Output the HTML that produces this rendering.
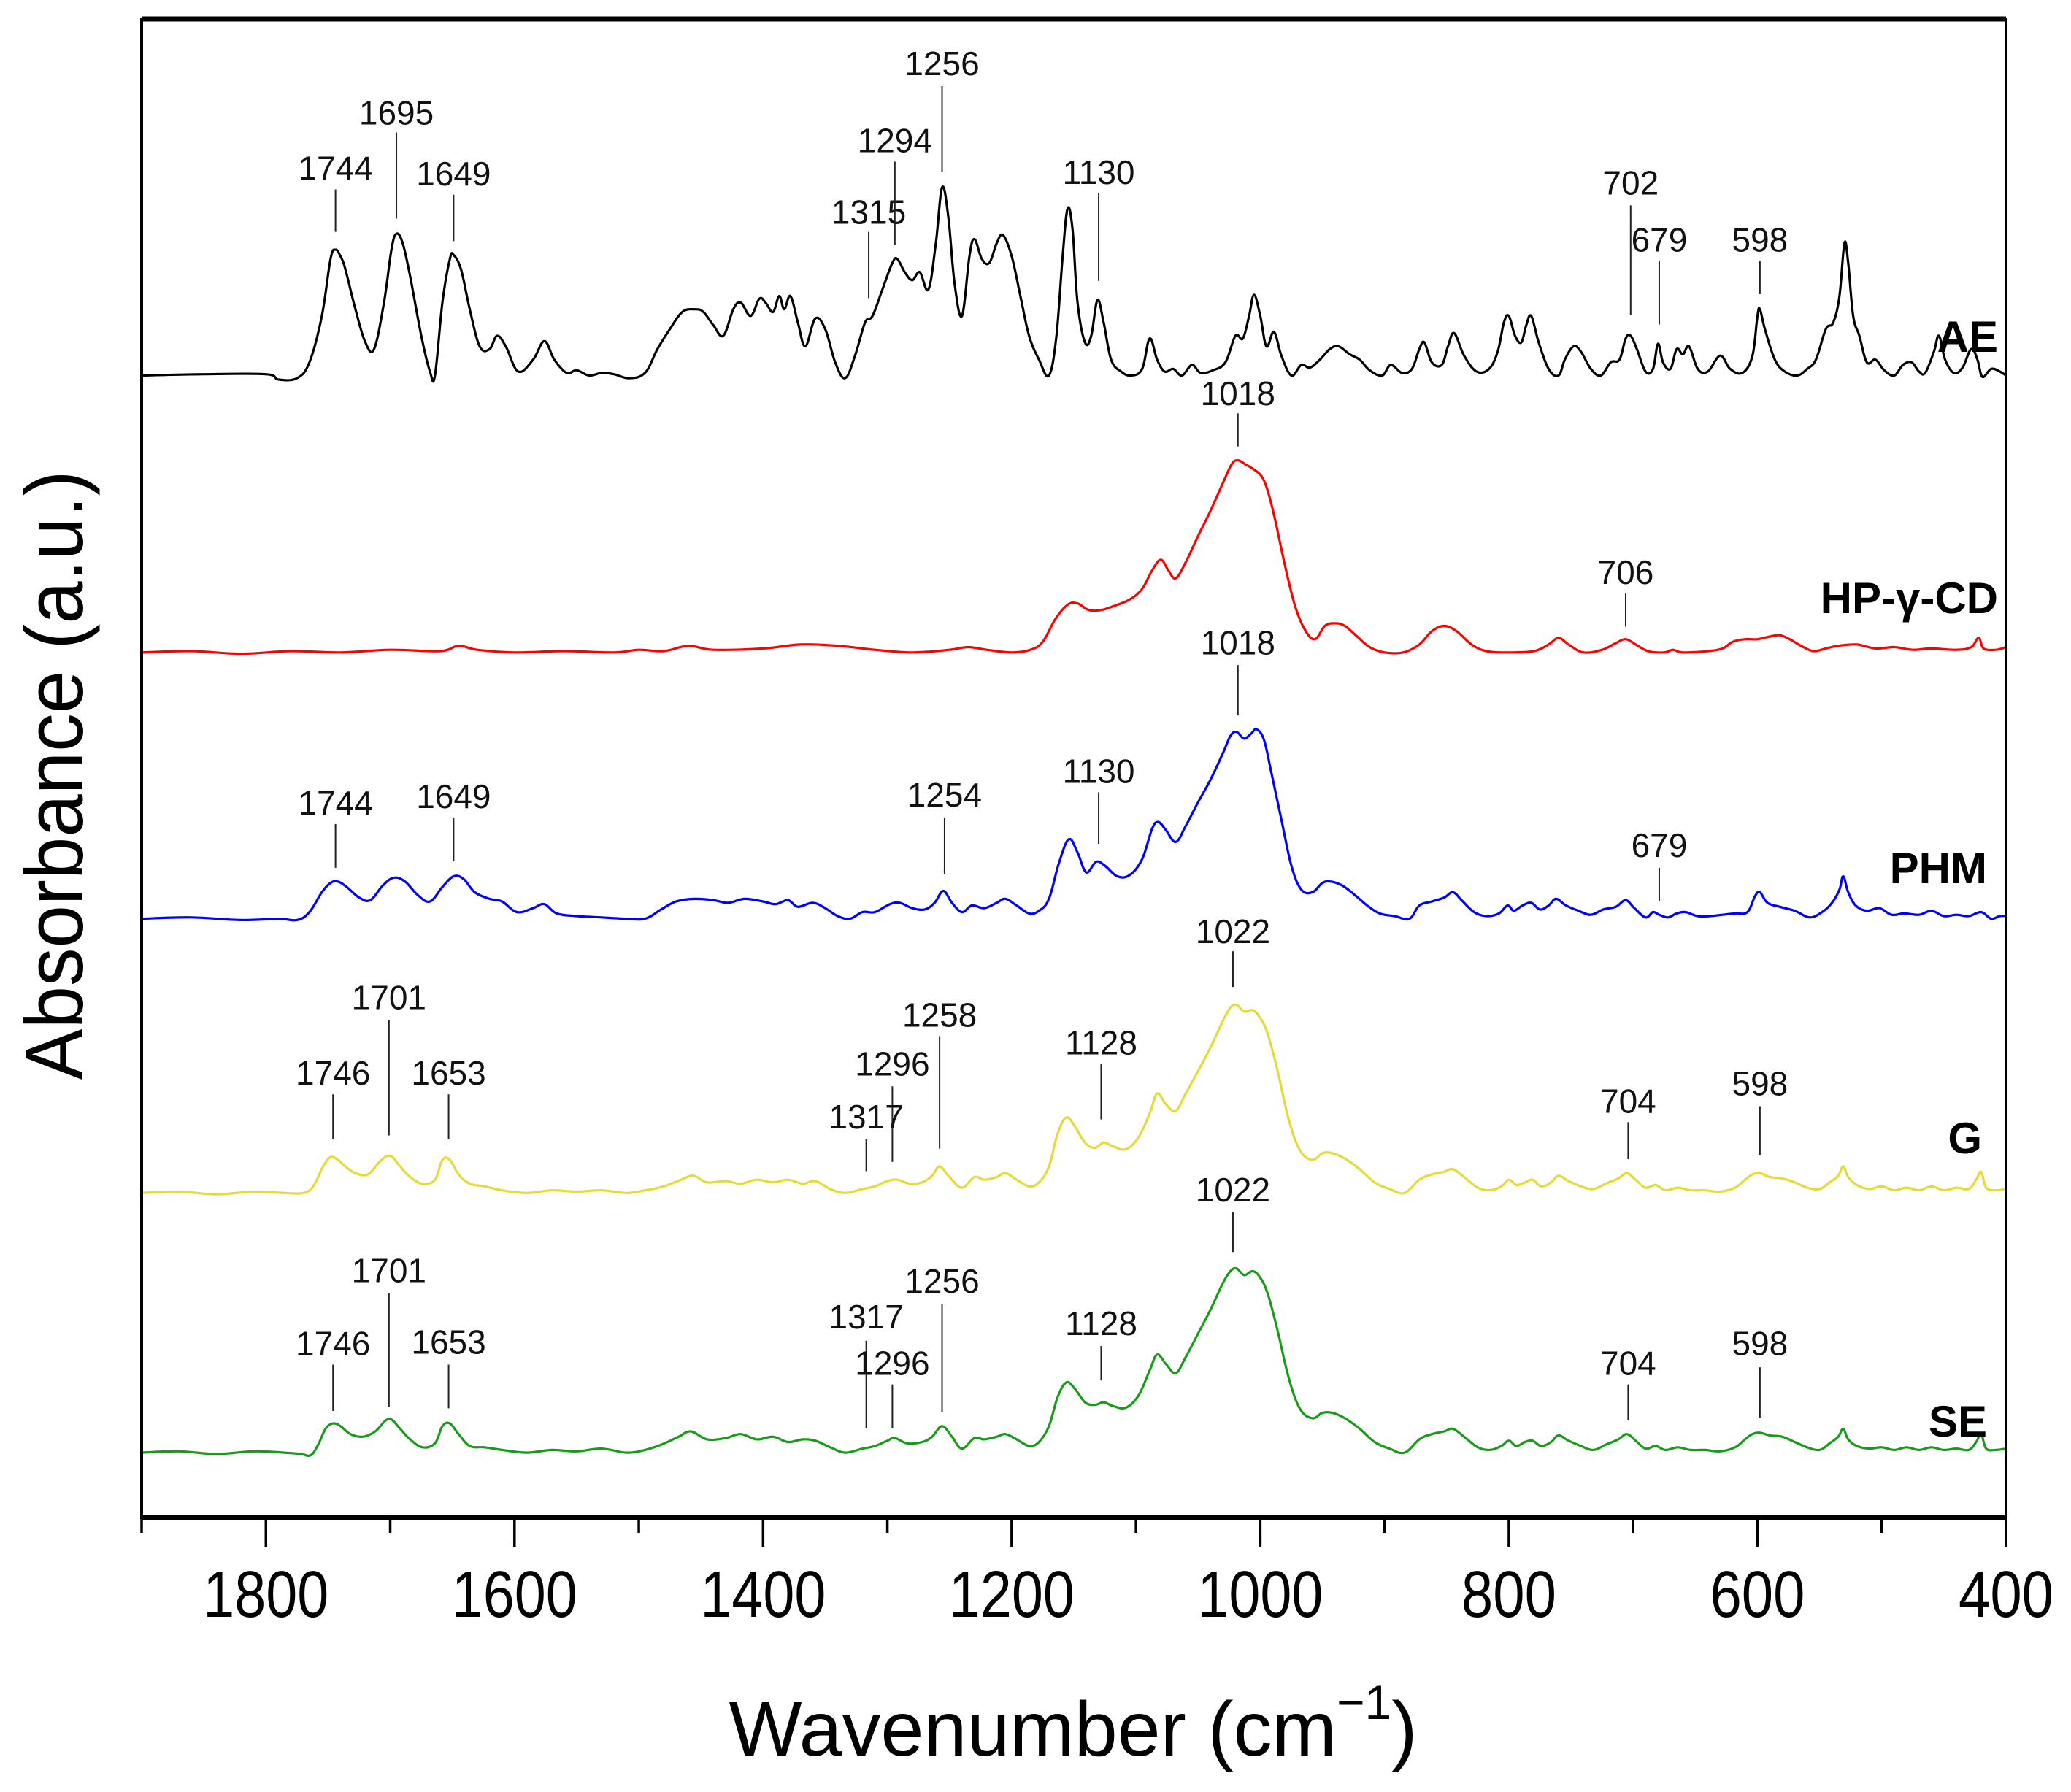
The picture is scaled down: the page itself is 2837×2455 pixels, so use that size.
<!DOCTYPE html>
<html><head><meta charset="utf-8"><title>FTIR spectra</title>
<style>html,body{margin:0;padding:0;background:#fff}svg{display:block}</style></head>
<body>
<svg id="chart" width="2837" height="2455" viewBox="0 0 2837 2455" xmlns="http://www.w3.org/2000/svg" font-family="Liberation Sans, sans-serif">
<rect x="0" y="0" width="2837" height="2455" fill="#fff"/>
<g id="plot"></g>
</svg>
<script>
// ---- data (wavenumber cm-1, absorbance a.u. relative to each trace baseline) ----
const xTicks = [1800, 1600, 1400, 1200, 1000, 800, 600, 400];
const seriesNames = ["AE", "HP-γ-CD", "PHM", "G", "SE"];
const seriesOffsets = [8.62, 6.53, 4.52, 2.45, 0.49];
const aeData = [[1900,0],[1850,0.01],[1800,0.01],[1790,-0.03],[1775,-0.02],[1765,0.1],[1755,0.45],[1748,0.88],[1744,0.95],[1740,0.9],[1736,0.8],[1728,0.5],[1720,0.25],[1713,0.2],[1705,0.55],[1699,0.95],[1695,1.07],[1690,1.0],[1684,0.75],[1675,0.3],[1668,0.03],[1664,0.0],[1658,0.55],[1652,0.88],[1649,0.91],[1643,0.8],[1636,0.5],[1628,0.22],[1620,0.2],[1614,0.3],[1607,0.22],[1597,0.03],[1585,0.12],[1576,0.26],[1568,0.12],[1558,0.02],[1550,0.04],[1540,0.0],[1530,0.02],[1520,0.01],[1508,-0.02],[1495,0.02],[1485,0.2],[1475,0.35],[1465,0.48],[1455,0.5],[1448,0.48],[1440,0.38],[1432,0.3],[1424,0.5],[1418,0.55],[1410,0.45],[1403,0.58],[1398,0.55],[1392,0.48],[1387,0.6],[1383,0.5],[1378,0.6],[1372,0.4],[1366,0.22],[1358,0.43],[1350,0.35],[1342,0.1],[1334,-0.02],[1326,0.15],[1318,0.4],[1312,0.45],[1304,0.65],[1296,0.85],[1292,0.88],[1286,0.78],[1280,0.72],[1274,0.78],[1267,0.65],[1261,1.0],[1256,1.42],[1251,1.2],[1246,0.7],[1240,0.45],[1234,0.9],[1230,1.03],[1224,0.88],[1218,0.85],[1212,1.0],[1207,1.06],[1200,0.9],[1193,0.6],[1186,0.3],[1178,0.12],[1170,0.0],[1164,0.3],[1159,0.9],[1155,1.26],[1151,1.1],[1147,0.55],[1141,0.25],[1136,0.3],[1131,0.57],[1126,0.4],[1120,0.12],[1112,0.03],[1104,0.0],[1095,0.05],[1089,0.28],[1083,0.12],[1077,0.03],[1070,0.05],[1063,0.0],[1055,0.08],[1048,0.02],[1038,0.04],[1028,0.1],[1020,0.3],[1014,0.28],[1009,0.45],[1005,0.61],[1000,0.45],[995,0.22],[989,0.33],[983,0.15],[975,0.0],[967,0.08],[960,0.06],[952,0.12],[944,0.2],[937,0.22],[928,0.16],[920,0.12],[912,0.04],[902,0.0],[895,0.08],[886,0.02],[878,0.05],[872,0.2],[868,0.25],[862,0.1],[854,0.08],[849,0.22],[844,0.32],[836,0.15],[826,0.03],[816,0.05],[809,0.18],[804,0.4],[800,0.45],[795,0.3],[790,0.25],[786,0.38],[782,0.45],[776,0.25],[768,0.05],[760,0.0],[755,0.12],[748,0.22],[742,0.18],[734,0.05],[726,0.0],[718,0.1],[711,0.12],[706,0.28],[702,0.3],[697,0.2],[690,0.03],[684,0.05],[680,0.24],[676,0.1],[670,0.05],[665,0.2],[660,0.16],[655,0.22],[648,0.05],[640,0.03],[630,0.15],[622,0.05],[612,0.02],[604,0.15],[600,0.45],[598,0.5],[594,0.35],[586,0.12],[578,0.03],[568,0.0],[560,0.05],[553,0.12],[545,0.35],[539,0.4],[534,0.6],[530,1.0],[527,0.85],[523,0.45],[518,0.3],[512,0.1],[505,0.12],[498,0.04],[490,0.0],[483,0.08],[476,0.1],[470,0.03],[465,0.02],[458,0.18],[454,0.3],[449,0.12],[442,0.02],[435,0.06],[428,0.2],[423,0.12],[419,-0.01],[412,0.05],[405,0.03],[400,0.0]];
const hpData = [[1900,0],[1860,0.01],[1820,-0.01],[1780,0.01],[1740,0.0],[1700,0.02],[1660,0.01],[1645,0.05],[1630,0.02],[1600,0.0],[1560,0.01],[1520,0.0],[1500,0.02],[1480,0.01],[1460,0.05],[1440,0.02],[1400,0.03],[1370,0.06],[1340,0.05],[1310,0.02],[1280,0.0],[1250,0.02],[1235,0.04],[1220,0.02],[1200,0.0],[1185,0.02],[1175,0.08],[1165,0.25],[1155,0.36],[1147,0.37],[1138,0.32],[1128,0.32],[1118,0.35],[1105,0.4],[1095,0.48],[1087,0.62],[1080,0.7],[1074,0.62],[1068,0.56],[1060,0.68],[1050,0.88],[1040,1.07],[1030,1.28],[1023,1.42],[1018,1.45],[1012,1.42],[1005,1.38],[999,1.33],[994,1.22],[988,1.0],[980,0.65],[972,0.35],[964,0.17],[956,0.1],[948,0.2],[940,0.22],[932,0.2],[922,0.12],[912,0.04],[900,0.0],[885,0.0],[872,0.06],[862,0.16],[852,0.2],[842,0.16],[830,0.06],[818,0.01],[800,0.0],[780,0.01],[768,0.06],[760,0.11],[752,0.06],[740,0.0],[725,0.02],[714,0.07],[706,0.1],[698,0.06],[688,0.01],[675,0.0],[668,0.02],[660,0.0],[640,0.01],[628,0.03],[620,0.08],[610,0.1],[600,0.1],[590,0.12],[582,0.13],[574,0.1],[565,0.05],[555,0.01],[545,0.03],[535,0.05],[520,0.06],[505,0.03],[490,0.04],[475,0.02],[460,0.03],[440,0.02],[428,0.04],[422,0.11],[418,0.03],[408,0.02],[400,0.04]];
const phmData = [[1900,0],[1860,0.01],[1820,-0.01],[1790,0.0],[1775,-0.01],[1765,0.05],[1755,0.2],[1748,0.27],[1742,0.28],[1735,0.24],[1725,0.16],[1716,0.14],[1706,0.25],[1697,0.31],[1688,0.28],[1678,0.18],[1668,0.13],[1658,0.24],[1649,0.32],[1641,0.3],[1632,0.2],[1620,0.15],[1610,0.13],[1598,0.05],[1585,0.08],[1576,0.11],[1566,0.04],[1550,0.02],[1530,0.01],[1510,0.0],[1495,0.0],[1482,0.07],[1470,0.13],[1455,0.15],[1440,0.14],[1428,0.12],[1415,0.15],[1400,0.13],[1390,0.11],[1380,0.14],[1372,0.09],[1360,0.12],[1350,0.08],[1340,0.02],[1330,0.0],[1320,0.05],[1310,0.05],[1298,0.11],[1290,0.12],[1280,0.08],[1270,0.07],[1262,0.12],[1255,0.21],[1248,0.12],[1240,0.05],[1232,0.1],[1222,0.08],[1212,0.12],[1205,0.15],[1196,0.1],[1186,0.04],[1178,0.06],[1170,0.15],[1162,0.42],[1154,0.6],[1147,0.5],[1140,0.35],[1132,0.43],[1125,0.4],[1115,0.32],[1105,0.33],[1095,0.45],[1087,0.68],[1082,0.73],[1076,0.67],[1068,0.58],[1060,0.7],[1050,0.88],[1040,1.05],[1030,1.25],[1024,1.38],[1019,1.41],[1013,1.36],[1007,1.4],[1003,1.43],[997,1.35],[991,1.1],[983,0.75],[975,0.4],[967,0.22],[958,0.2],[950,0.27],[943,0.28],[934,0.25],[924,0.18],[914,0.1],[904,0.04],[892,0.02],[880,0.0],[872,0.1],[862,0.13],[852,0.16],[845,0.2],[838,0.14],[828,0.05],[818,0.02],[808,0.04],[801,0.1],[796,0.06],[789,0.1],[782,0.12],[775,0.07],[768,0.1],[762,0.15],[754,0.1],[744,0.06],[734,0.03],[724,0.07],[714,0.09],[706,0.14],[699,0.08],[690,0.01],[684,0.05],[679,0.03],[672,0.01],[665,0.04],[658,0.05],[648,0.02],[638,0.02],[628,0.03],[618,0.04],[608,0.05],[602,0.17],[598,0.2],[592,0.12],[582,0.09],[570,0.06],[558,0.01],[548,0.05],[540,0.12],[534,0.22],[531,0.32],[527,0.2],[521,0.1],[512,0.06],[502,0.08],[492,0.03],[482,0.04],[470,0.03],[460,0.06],[450,0.02],[440,0.03],[430,0.02],[420,0.05],[412,0.0],[405,0.02],[400,0.02]];
const gData = [[1900,0],[1870,0.01],[1840,-0.01],[1810,0.01],[1785,0.0],[1770,0.0],[1762,0.05],[1754,0.2],[1748,0.27],[1742,0.25],[1736,0.2],[1728,0.15],[1718,0.14],[1708,0.24],[1700,0.28],[1692,0.2],[1684,0.12],[1674,0.07],[1664,0.1],[1658,0.25],[1652,0.25],[1645,0.14],[1636,0.07],[1624,0.05],[1610,0.02],[1590,0.0],[1570,0.02],[1550,0.01],[1530,0.02],[1510,0.0],[1495,0.02],[1480,0.05],[1466,0.1],[1456,0.13],[1445,0.08],[1430,0.09],[1418,0.07],[1405,0.1],[1392,0.08],[1380,0.1],[1368,0.07],[1358,0.09],[1346,0.03],[1334,0.0],[1320,0.03],[1310,0.05],[1300,0.09],[1292,0.1],[1282,0.07],[1272,0.08],[1264,0.13],[1258,0.2],[1250,0.12],[1240,0.04],[1230,0.12],[1222,0.1],[1212,0.12],[1205,0.15],[1196,0.1],[1186,0.05],[1178,0.08],[1170,0.2],[1163,0.45],[1156,0.57],[1149,0.5],[1141,0.38],[1133,0.34],[1126,0.38],[1118,0.35],[1108,0.33],[1098,0.42],[1089,0.6],[1083,0.75],[1076,0.67],[1068,0.62],[1060,0.75],[1050,0.92],[1040,1.1],[1030,1.3],[1024,1.4],[1019,1.42],[1013,1.37],[1006,1.38],[1000,1.32],[994,1.2],[986,0.92],[977,0.55],[968,0.32],[958,0.25],[950,0.3],[942,0.3],[932,0.26],[920,0.18],[908,0.08],[896,0.03],[884,0.0],[872,0.1],[862,0.14],[852,0.16],[845,0.18],[836,0.12],[825,0.04],[815,0.02],[806,0.05],[800,0.1],[794,0.06],[787,0.08],[781,0.1],[774,0.05],[766,0.08],[760,0.13],[752,0.09],[742,0.05],[732,0.03],[722,0.07],[712,0.11],[705,0.15],[698,0.1],[690,0.04],[682,0.06],[674,0.02],[664,0.04],[654,0.02],[642,0.02],[630,0.01],[618,0.04],[610,0.1],[604,0.14],[598,0.15],[590,0.12],[580,0.11],[570,0.08],[560,0.04],[550,0.03],[542,0.08],[535,0.13],[531,0.2],[527,0.12],[520,0.06],[510,0.03],[500,0.05],[490,0.02],[480,0.04],[470,0.02],[460,0.05],[450,0.02],[440,0.04],[430,0.03],[424,0.1],[420,0.16],[416,0.04],[408,0.02],[400,0.03]];
const seData = [[1900,0],[1870,0.01],[1840,-0.01],[1810,0.01],[1785,0.0],[1772,-0.01],[1764,-0.02],[1758,0.06],[1752,0.18],[1746,0.22],[1740,0.2],[1732,0.14],[1722,0.12],[1712,0.16],[1704,0.24],[1699,0.25],[1692,0.18],[1684,0.1],[1674,0.04],[1664,0.07],[1658,0.2],[1652,0.22],[1645,0.14],[1636,0.05],[1624,0.04],[1610,0.02],[1590,0.0],[1570,0.02],[1550,0.01],[1530,0.03],[1510,0.0],[1495,0.02],[1482,0.06],[1468,0.12],[1458,0.16],[1445,0.1],[1430,0.11],[1418,0.14],[1405,0.1],[1392,0.12],[1380,0.08],[1368,0.1],[1358,0.09],[1346,0.04],[1334,0.0],[1320,0.03],[1310,0.05],[1300,0.09],[1294,0.11],[1284,0.07],[1272,0.08],[1264,0.12],[1256,0.2],[1248,0.12],[1240,0.03],[1230,0.11],[1222,0.1],[1212,0.12],[1205,0.14],[1196,0.1],[1186,0.05],[1178,0.08],[1170,0.2],[1163,0.42],[1156,0.53],[1149,0.48],[1141,0.38],[1133,0.36],[1126,0.38],[1118,0.35],[1108,0.34],[1098,0.43],[1089,0.62],[1083,0.74],[1076,0.67],[1068,0.6],[1060,0.72],[1050,0.9],[1040,1.08],[1030,1.28],[1024,1.37],[1019,1.39],[1013,1.34],[1006,1.37],[1000,1.32],[994,1.2],[986,0.92],[977,0.56],[968,0.33],[958,0.26],[950,0.3],[942,0.3],[932,0.26],[920,0.18],[908,0.08],[896,0.03],[884,0.0],[872,0.1],[862,0.14],[852,0.16],[845,0.18],[836,0.12],[825,0.04],[815,0.02],[806,0.05],[800,0.09],[794,0.05],[787,0.08],[781,0.09],[774,0.05],[766,0.08],[760,0.13],[752,0.09],[742,0.05],[732,0.02],[722,0.06],[712,0.1],[705,0.14],[698,0.09],[690,0.03],[682,0.05],[674,0.02],[664,0.04],[654,0.02],[642,0.02],[630,0.01],[618,0.04],[610,0.1],[604,0.14],[598,0.15],[590,0.13],[580,0.12],[570,0.08],[560,0.04],[550,0.02],[542,0.07],[535,0.12],[531,0.18],[527,0.1],[520,0.05],[510,0.03],[500,0.04],[490,0.02],[480,0.04],[470,0.02],[460,0.04],[450,0.02],[440,0.03],[430,0.02],[424,0.08],[420,0.14],[416,0.03],[408,0.02],[400,0.03]];
const seriesData = [aeData, hpData, phmData, gData, seData];
const seriesColors = ["#000000", "#ff0000", "#0000ff", "#e3dc38", "#1a9a1a"];
// peak annotations: wavenumbers and labels per series
const annoWn = [
  [1744,1695,1649,1315,1294,1256,1130,702,679,598],
  [1018,706],
  [1018,1744,1649,1254,1130,679],
  [1022,1701,1746,1653,1258,1296,1317,1128,704,598],
  [1022,1701,1746,1653,1317,1296,1256,1128,704,598]
];
const annoLabels = annoWn.map(a => a.map(String));

// ---- layout ----
const S = 1.815;
const L = 194, R = 2748, T = 26, B = 2079;
const X0 = 1900, X1 = 400;
const VPX = 181.5; // px per a.u.
function xScale(w){ return L + (X0 - w) / (X0 - X1) * (R - L); }
function yScale(v){ return B - v * VPX; }
// annotation layout in preview units: [textY, lineTop, lineBottom]
const annoPos = [
  [[127,143,175],[85,100,165],[131,147,182],[160,175,225],[106,122,185],[48,65,130],[130,146,212],[138,155,238],[181,197,245],[181,197,222]],
  [[297,312,337],[432,448,473]],
  [[485,502,540],[606,622,655],[601,617,650],[600,617,660],[582,598,637],[638,655,680]],
  [[703,718,745],[753,770,857],[810,826,860],[810,826,860],[766,782,867],[803,820,877],[843,860,884],[787,803,845],[831,847,875],[818,835,872]],
  [[898,915,945],[959,976,1062],[1014,1030,1065],[1013,1030,1063],[994,1012,1078],[1029,1045,1078],[967,984,1066],[999,1016,1042],[1029,1045,1072],[1014,1032,1070]]
];
const labelPos = [[2737,482],[2737,840],[2722,1210],[2715,1580],[2722,1968]];

const NS = "http://www.w3.org/2000/svg";
const g = document.getElementById("plot");
function mk(tag, attrs, parent){ const e = document.createElementNS(NS, tag); for (const k in attrs) e.setAttribute(k, attrs[k]); (parent||g).appendChild(e); return e; }

function smoothPath(pts){
  let d = "M" + pts[0][0].toFixed(1) + "," + pts[0][1].toFixed(1);
  for (let i = 0; i < pts.length - 1; i++){
    const p0 = pts[Math.max(0,i-1)], p1 = pts[i], p2 = pts[i+1], p3 = pts[Math.min(pts.length-1,i+2)];
    const t = 0.18;
    const c1x = p1[0] + (p2[0]-p0[0])*t, c1y = p1[1] + (p2[1]-p0[1])*t;
    const c2x = p2[0] - (p3[0]-p1[0])*t, c2y = p2[1] - (p3[1]-p1[1])*t;
    d += " C" + c1x.toFixed(1)+","+c1y.toFixed(1)+" "+c2x.toFixed(1)+","+c2y.toFixed(1)+" "+p2[0].toFixed(1)+","+p2[1].toFixed(1);
  }
  return d;
}

// series
seriesData.forEach((data, si) => {
  const pts = data.map(p => [xScale(p[0]), yScale(p[1] + seriesOffsets[si])]);
  const path = mk("path", {d: smoothPath(pts), fill: "none", stroke: seriesColors[si], "stroke-width": 3.2, "stroke-linejoin": "round"});
  
  
});

// annotations
annoWn.forEach((arr, si) => {
  arr.forEach((w, i) => {
    const pos = annoPos[si][i];
    const x = xScale(w);
    const ln = mk("line", {x1: x, x2: x, y1: pos[1]*S, y2: pos[2]*S, stroke: "#222", "stroke-width": 2});
    
    
    const tx = mk("text", {x: x, y: pos[0]*S + 16, "text-anchor": "middle", "font-size": 46, fill: "#111"});
    tx.textContent = annoLabels[si][i];
    
    
  });
});

// series labels
seriesNames.forEach((n, si) => {
  const t = mk("text", {x: labelPos[si][0], y: labelPos[si][1], "text-anchor": "end", "font-size": 60, "font-weight": "bold", fill: "#000"});
  t.textContent = n;
  
  
});

// frame
const frame = mk("rect", {x: L, y: T, width: R-L, height: B-T, fill: "none", stroke: "#000", "stroke-width": 4});


const topLine = mk("line", {x1: L, x2: R, y1: T, y2: T, stroke: "#000", "stroke-width": 7});


const botLine = mk("line", {x1: L, x2: R, y1: B, y2: B, stroke: "#000", "stroke-width": 7});



// ticks
for (let w = 1900; w >= 400; w -= 100){
  const major = xTicks.indexOf(w) >= 0;
  const tk = mk("line", {x1: xScale(w), x2: xScale(w), y1: B, y2: B + (major ? 40 : 21), stroke: "#000", "stroke-width": 3.5});
  
  
}
xTicks.forEach(w => {
  const t = mk("text", {x: xScale(w), y: 2215, "text-anchor": "middle", "font-size": 90, fill: "#000", textLength: w >= 1000 ? 172 : 130, lengthAdjust: "spacingAndGlyphs"});
  t.textContent = String(w);
  
  
});

// axis titles
const xt = mk("text", {x: 1470, y: 2405, "text-anchor": "middle", "font-size": 106, fill: "#000"});


xt.appendChild(document.createTextNode("Wavenumber (cm"));
const sup = mk("tspan", {"font-size": 66, dy: -50}, xt);
sup.textContent = "−1";


const cl = mk("tspan", {dy: 50}, xt);
cl.textContent = ")";



const yt = mk("text", {x: 0, y: 0, "text-anchor": "middle", "font-size": 112, fill: "#000", transform: "translate(113,1062) rotate(-90)", textLength: 835, lengthAdjust: "spacingAndGlyphs"});
yt.textContent = "Absorbance (a.u.)";


</script>
</body></html>
